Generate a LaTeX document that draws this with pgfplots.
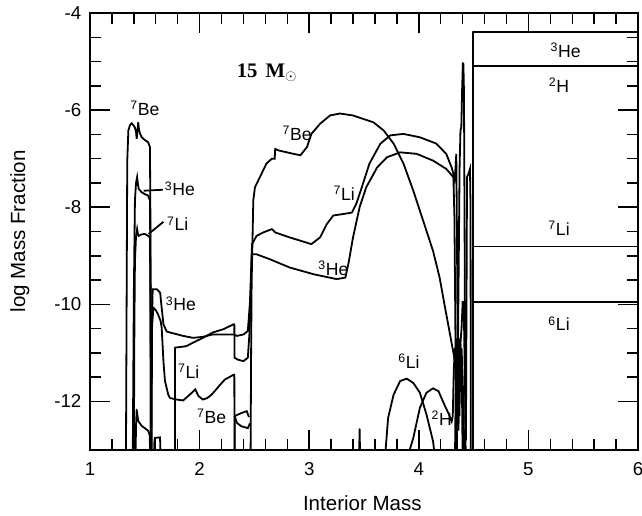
\documentclass[border=0pt]{standalone}
\usepackage{pgfplots}
\pgfplotsset{compat=1.18}
\usepackage{fontspec}
\setmainfont{Liberation Sans}
\newfontfamily\serifm{Liberation Serif}
\begin{document}
\begin{tikzpicture}
\begin{axis}[
  scale only axis,
  width=411pt, height=327.75pt,
  xmin=1, xmax=6, ymin=-13, ymax=-4,
  xtick={1,2,3,4,5,6},
  ytick={-12,-10,-8,-6,-4},
  minor x tick num=4,
  minor y tick num=3,
  major tick length=15pt,
  minor tick length=8pt,
  tick align=inside,
  axis line style={line width=1.3pt},
  every tick/.style={black, line width=1.1pt},
  /pgf/number format/assume math mode=true,
  tick label style={font=\fontsize{14}{16}\selectfont},
  xticklabel style={yshift=-6pt},
  yticklabel style={xshift=-3pt},
  label style={font=\fontsize{15.4}{18}\selectfont},
  xlabel={Interior Mass},
  ylabel={log Mass Fraction},
  xlabel style={at={(axis description cs:0.497,-0.121)}, anchor=center},
  ylabel style={at={(axis description cs:-0.128,0.5)}, anchor=center},
  cycle list={{black, solid, mark=none, line join=round}},
  every axis plot post/.append style={line width=1.35pt},
  clip=true,
]
\coordinate (nw) at (rel axis cs:0,1);
\coordinate (se) at (rel axis cs:1,0);
% 7Be left
\addplot coordinates {(1.328,-13.2) (1.335,-9.5) (1.34,-7.04) (1.35,-6.42) (1.365,-6.31) (1.38,-6.27) (1.395,-6.31) (1.41,-6.36) (1.42,-6.45) (1.426,-6.59) (1.432,-6.45) (1.44,-6.25) (1.447,-6.40) (1.456,-6.48) (1.47,-6.55) (1.486,-6.59) (1.51,-6.63) (1.53,-6.66) (1.547,-6.76) (1.552,-8.5) (1.556,-13.2)};
% 3He left
\addplot coordinates {(1.39,-13.2) (1.40,-9.79) (1.41,-7.86) (1.42,-7.5) (1.43,-7.38) (1.437,-7.52) (1.444,-7.62) (1.47,-7.69) (1.50,-7.73) (1.53,-7.76) (1.547,-7.86) (1.552,-9.5) (1.556,-13.2)};
% 7Li left
\addplot coordinates {(1.40,-13.2) (1.405,-10.5) (1.41,-9.1) (1.42,-8.6) (1.43,-8.45) (1.437,-8.55) (1.444,-8.59) (1.47,-8.56) (1.50,-8.55) (1.53,-8.59) (1.547,-8.62) (1.552,-10) (1.556,-13.2)};
% low curve left
\addplot coordinates {(1.415,-13.2) (1.42,-12.5) (1.426,-12.17) (1.44,-12.4) (1.47,-12.5) (1.50,-12.55) (1.53,-12.6) (1.545,-12.7) (1.55,-13.2)};
\addplot coordinates {(1.584,-13.2) (1.588,-12.8) (1.593,-12.75) (1.639,-12.74) (1.645,-13.2)};
% 3He continuing
\addplot coordinates {(1.562,-13.2) (1.566,-10.3) (1.572,-9.69) (1.61,-9.69) (1.64,-9.76) (1.654,-10.07) (1.67,-10.41) (1.70,-10.56) (1.73,-10.58) (1.85,-10.65) (1.94,-10.69) (2.03,-10.67) (2.12,-10.62) (2.22,-10.62) (2.31,-10.62) (2.34,-10.65) (2.40,-10.62) (2.44,-10.55) (2.46,-9.94) (2.475,-8.97) (2.52,-8.97) (2.64,-9.07) (2.82,-9.24) (3.04,-9.38) (3.25,-9.48) (3.33,-9.45) (3.36,-9.14) (3.40,-8.62) (3.46,-8.0) (3.52,-7.59) (3.62,-7.18) (3.71,-6.97) (3.83,-6.87) (3.98,-6.90) (4.13,-7.04) (4.25,-7.21) (4.315,-7.38) (4.325,-7.45) (4.335,-7.2) (4.342,-6.9) (4.348,-8.5) (4.355,-11.0) (4.362,-12.6) (4.37,-11.5) (4.38,-10.8) (4.39,-10.5) (4.40,-9.95) (4.41,-9.95) (4.42,-11.5) (4.43,-12.8) (4.437,-9.0) (4.44,-7.38) (4.455,-7.3) (4.467,-7.21) (4.472,-8) (4.475,-13.2)};
% 7Li second (lower)
\addplot coordinates {(1.558,-13.2) (1.565,-10.5) (1.578,-10.07) (1.60,-10.12) (1.62,-10.2) (1.645,-10.35) (1.654,-10.48) (1.67,-11.17) (1.684,-11.58) (1.714,-11.86) (1.73,-11.93) (1.79,-11.96) (1.85,-11.98) (1.93,-11.82) (1.96,-11.75) (1.99,-11.89) (2.03,-11.96) (2.07,-11.93) (2.11,-11.86) (2.19,-11.65) (2.23,-11.55) (2.31,-11.45) (2.317,-11.45) (2.319,-13.2)};
% 7Li middle
\addplot coordinates {(1.776,-13.2) (1.776,-10.89) (1.82,-10.88) (1.88,-10.86) (1.94,-10.79) (2.03,-10.69) (2.12,-10.58) (2.22,-10.51) (2.31,-10.41) (2.317,-10.41) (2.319,-11.10) (2.35,-11.14) (2.40,-11.17) (2.44,-11.10) (2.455,-10.6) (2.47,-9.5) (2.478,-8.76) (2.52,-8.59) (2.58,-8.52) (2.66,-8.45) (2.69,-8.52) (2.82,-8.62) (3.02,-8.76) (3.10,-8.62) (3.16,-8.35) (3.22,-8.17) (3.31,-8.14) (3.39,-8.11) (3.43,-7.93) (3.49,-7.52) (3.55,-7.10) (3.65,-6.69) (3.74,-6.52) (3.86,-6.49) (4.01,-6.56) (4.16,-6.69) (4.25,-6.90) (4.30,-7.18) (4.315,-7.31) (4.325,-8.2) (4.335,-10.8) (4.345,-11.9) (4.355,-11.4) (4.365,-9.0) (4.372,-7.2) (4.38,-6.42) (4.388,-6.35) (4.395,-5.6) (4.402,-5.03) (4.407,-5.05) (4.412,-5.6) (4.418,-8.5) (4.423,-11.8) (4.428,-13.2)};
% 7Be low loops
\addplot coordinates {(2.32,-13.2) (2.32,-12.30) (2.38,-12.24) (2.43,-12.20) (2.45,-12.32)};
\addplot coordinates {(2.32,-12.30) (2.34,-12.44) (2.38,-12.51) (2.44,-12.55) (2.46,-12.45)};
% 7Be middle
\addplot coordinates {(2.465,-13.2) (2.47,-11) (2.475,-9.52) (2.49,-7.86) (2.505,-7.59) (2.55,-7.38) (2.61,-7.10) (2.66,-7.0) (2.685,-7.0) (2.69,-6.80) (2.72,-6.83) (2.855,-6.90) (2.92,-6.93) (2.98,-6.76) (3.02,-6.49) (3.10,-6.28) (3.19,-6.11) (3.28,-6.07) (3.40,-6.11) (3.49,-6.18) (3.585,-6.25) (3.68,-6.42) (3.77,-6.69) (3.86,-7.10) (3.95,-7.66) (4.04,-8.28) (4.13,-8.90) (4.19,-9.45) (4.23,-9.95) (4.285,-10.62) (4.33,-11.17) (4.345,-12.0) (4.35,-13.2)};
% small spike
\addplot coordinates {(3.455,-13.2) (3.46,-12.57) (3.465,-13.2)};
% 6Li
\addplot coordinates {(3.69,-13.2) (3.72,-12.34) (3.77,-11.86) (3.83,-11.58) (3.89,-11.53) (3.95,-11.62) (4.01,-11.82) (4.07,-12.27) (4.13,-12.82) (4.15,-13.2)};
\addplot coordinates {(4.33,-13.2) (4.34,-11.0) (4.35,-10.7) (4.36,-11.8) (4.37,-12.3) (4.38,-11.2) (4.39,-10.9) (4.40,-11.5) (4.41,-12.4) (4.415,-13.2)};
% 2H
\addplot coordinates {(3.89,-13.2) (3.95,-12.75) (4.01,-12.13) (4.07,-11.82) (4.13,-11.73) (4.18,-11.79) (4.24,-12.10) (4.27,-12.24) (4.30,-12.41) (4.31,-12.3) (4.32,-11.3) (4.33,-10.9) (4.345,-11.6) (4.355,-12.5) (4.365,-11.1) (4.375,-10.7) (4.385,-11.0) (4.395,-12.0) (4.40,-13.2)};
% envelope
\addplot coordinates {(4.497,-13.2) (4.497,-4.39) (6.1,-4.39)};
\addplot coordinates {(4.497,-5.09) (6.1,-5.09)};
\addplot coordinates {(4.497,-8.81) (6.1,-8.81)};
\addplot coordinates {(4.497,-9.96) (6.1,-9.96)};
% leader lines
\addplot coordinates {(1.49,-7.66) (1.665,-7.64)};
\addplot coordinates {(1.535,-8.55) (1.67,-8.30)};
% labels
\begin{scope}[every node/.style={font=\fontsize{13.2}{15}\selectfont, inner sep=0pt}]
\node at (axis cs:1.50,-5.96) {\textsuperscript{7}Be};
\node at (axis cs:1.82,-7.62) {\textsuperscript{3}He};
\node at (axis cs:1.80,-8.34) {\textsuperscript{7}Li};
\node at (axis cs:1.83,-9.99) {\textsuperscript{3}He};
\node at (axis cs:1.90,-11.38) {\textsuperscript{7}Li};
\node at (axis cs:2.11,-12.30) {\textsuperscript{7}Be};
\node at (axis cs:2.89,-6.48) {\textsuperscript{7}Be};
\node at (axis cs:3.32,-7.72) {\textsuperscript{7}Li};
\node at (axis cs:3.22,-9.25) {\textsuperscript{3}He};
\node at (axis cs:3.91,-11.17) {\textsuperscript{6}Li};
\node at (axis cs:4.21,-12.35) {\textsuperscript{2}H};
\node at (axis cs:5.34,-4.76) {\textsuperscript{3}He};
\node at (axis cs:5.28,-5.49) {\textsuperscript{2}H};
\node at (axis cs:5.28,-8.44) {\textsuperscript{7}Li};
\node at (axis cs:5.28,-10.40) {\textsuperscript{6}Li};
\node at (axis cs:2.615,-5.24) {\fontsize{15.5}{17}\selectfont\serifm\bfseries 15\hspace{0.4em}M$_{\odot}$};
\end{scope}
\end{axis}
\pgfresetboundingbox
\path[use as bounding box] ([xshift=-67.5pt,yshift=9.75pt]nw) rectangle ([xshift=3pt,yshift=-48.75pt]se);
\end{tikzpicture}
\end{document}
